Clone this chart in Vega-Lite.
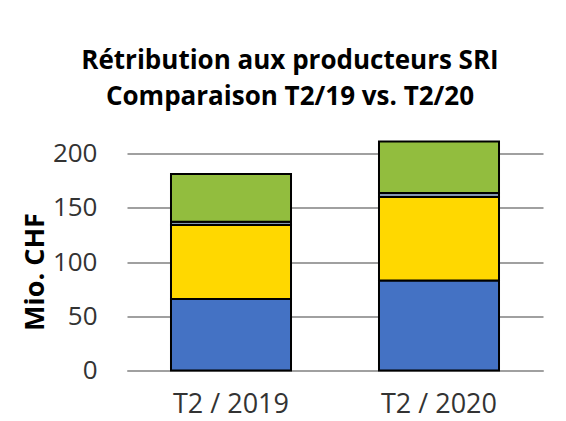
{
  "$schema": "https://vega.github.io/schema/vega-lite/v6.json",
  "autosize": "none",
  "width": 416,
  "height": 217,
  "padding": {"left": 127, "top": 153.5, "right": 23, "bottom": 50.5},
  "background": "white",
  "title": {
    "text": ["Rétribution aux producteurs SRI", "Comparaison T2/19 vs. T2/20"],
    "font": "Open Sans",
    "fontSize": 26,
    "fontWeight": "bold",
    "color": "#000000",
    "anchor": "middle",
    "dx": -45,
    "offset": 31,
    "lineHeight": 36
  },
  "data": {
    "values": [
      {"periode": "T2 / 2019", "segment": "A", "ordre": 1, "valeur": 66},
      {"periode": "T2 / 2019", "segment": "B", "ordre": 2, "valeur": 68},
      {"periode": "T2 / 2019", "segment": "C", "ordre": 3, "valeur": 3},
      {"periode": "T2 / 2019", "segment": "D", "ordre": 4, "valeur": 44},
      {"periode": "T2 / 2020", "segment": "A", "ordre": 1, "valeur": 83},
      {"periode": "T2 / 2020", "segment": "B", "ordre": 2, "valeur": 77},
      {"periode": "T2 / 2020", "segment": "C", "ordre": 3, "valeur": 3.5},
      {"periode": "T2 / 2020", "segment": "D", "ordre": 4, "valeur": 47.5}
    ]
  },
  "mark": {"type": "bar", "stroke": "#000000", "strokeWidth": 2},
  "encoding": {
    "x": {
      "field": "periode",
      "type": "nominal",
      "sort": null,
      "scale": {"paddingInner": 0.423, "paddingOuter": 0.2115},
      "axis": {
        "title": null,
        "labelAngle": 0,
        "labelFont": "Open Sans",
        "labelFontSize": 27,
        "labelColor": "#333333",
        "labelPadding": 21,
        "ticks": false,
        "domain": true,
        "domainColor": "#a0a0a0",
        "domainWidth": 2
      }
    },
    "y": {
      "field": "valeur",
      "type": "quantitative",
      "stack": "zero",
      "scale": {"domain": [0, 200], "nice": false},
      "axis": {
        "title": "Mio. CHF",
        "titleFont": "Open Sans",
        "titleFontSize": 27,
        "titleFontWeight": "bold",
        "titleColor": "#000000",
        "titleAngle": 270,
        "titleBaseline": "alphabetic",
        "titleAlign": "center",
        "titleX": -84,
        "titleY": 118,
        "values": [0, 50, 100, 150, 200],
        "labelFont": "Open Sans",
        "labelFontSize": 26,
        "labelColor": "#333333",
        "labelPadding": 30,
        "ticks": false,
        "domain": false,
        "grid": true,
        "gridColor": "#a0a0a0",
        "gridWidth": 2
      }
    },
    "color": {
      "field": "segment",
      "type": "nominal",
      "scale": {"domain": ["A", "B", "C", "D"], "range": ["#4472C4", "#FFD800", "#8497B0", "#92BD3E"]},
      "legend": null
    },
    "order": {"field": "ordre", "type": "quantitative"}
  },
  "config": {"view": {"stroke": null}}
}
